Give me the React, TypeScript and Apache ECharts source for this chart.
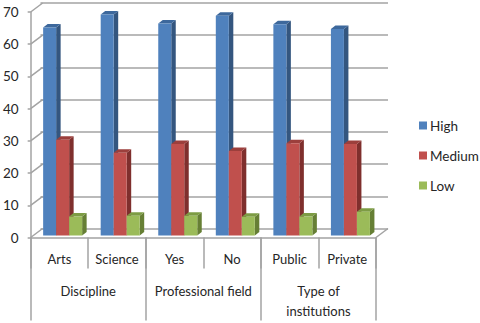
import React, { useEffect, useRef } from "react";
import * as echarts from "echarts";

const subCategories = ["Arts", "Science", "Yes", "No", "Public", "Private"];
const groupCategories = ["Discipline", "Professional field", "Type of\ninstitutions"];
const high = [64.6, 68.6, 65.8, 68.2, 65.6, 64.1];
const medium = [29.7, 25.7, 28.4, 26.2, 28.6, 28.4];
const low = [5.9, 6.1, 6.1, 5.8, 5.9, 7.4];
const yTicks = [0, 10, 20, 30, 40, 50, 60, 70];

const FONT = "Lato";
const GREY = "#a3a3a3";
const TEXT = "#262626";
const DX = 12;
const DY = -9;

const palettes = [
  { name: "High", front: "#4f81bd", side: "#34567f", top: "#3d689c" },
  { name: "Medium", front: "#c0504d", side: "#7f2f2d", top: "#9c3f3c" },
  { name: "Low", front: "#9bbb59", side: "#667f35", top: "#7d9c44" },
];
const seriesValues = [high, medium, low];

function barSeries(k: number) {
  const p = palettes[k];
  return {
    name: p.name,
    type: "custom",
    xAxisIndex: 0,
    yAxisIndex: 0,
    itemStyle: { color: p.front },
    z: 5 + k,
    data: seriesValues[k].map((v, i) => [i, v]),
    renderItem: (_: any, api: any) => {
      const top = api.coord([api.value(0), api.value(1)]);
      const base = api.coord([api.value(0), 0]);
      const w = 13;
      const x0 = top[0] + 3.2 - 19.5 + k * w;
      const x1 = x0 + w;
      const yt = top[1] - 2;
      const yb = base[1] - 2;
      const ox = 4.5;
      const oy = -3.5;
      return {
        type: "group",
        children: [
          { type: "polygon", shape: { points: [[x1, yt], [x1 + ox, yt + oy], [x1 + ox, yb + oy], [x1, yb]] }, style: { fill: p.side } },
          { type: "polygon", shape: { points: [[x0, yt], [x0 + ox, yt + oy], [x1 + ox, yt + oy], [x1, yt]] }, style: { fill: p.top } },
          { type: "rect", shape: { x: x0, y: yt, width: w, height: yb - yt }, style: { fill: p.front } },
        ],
      };
    },
  };
}

export default function App() {
  const ref = useRef<HTMLDivElement>(null);
  useEffect(() => {
    const chart = echarts.init(ref.current!, undefined, { renderer: "svg" });
    chart.setOption({
      animation: false,
      backgroundColor: "#ffffff",
      textStyle: { fontFamily: FONT },
      legend: {
        data: palettes.map((p) => p.name),
        orient: "vertical",
        left: 419,
        top: 118.5,
        padding: 0,
        itemWidth: 8,
        itemHeight: 8,
        itemGap: 16,
        icon: "rect",
        textStyle: { fontFamily: FONT, fontSize: 13.5, color: TEXT, padding: [0, 0, 0, -2] },
      },
      grid: [
        { left: 28.5, top: 12, width: 347.5, height: 225.5 },
        { left: 40.5, top: 3, width: 347.5, height: 225.5 },
      ],
      xAxis: [
        {
          gridIndex: 0,
          type: "category",
          data: subCategories,
          position: "bottom",
          axisLine: { show: true, lineStyle: { color: GREY, width: 1.5 } },
          axisTick: { show: true, length: 31, lineStyle: { color: GREY, width: 1.5 } },
          axisLabel: { margin: 15, fontFamily: FONT, fontSize: 13, color: TEXT, interval: 0 },
        },
        {
          gridIndex: 0,
          type: "category",
          data: groupCategories,
          position: "bottom",
          axisLine: { show: false },
          axisTick: { show: true, length: 83, lineStyle: { color: GREY, width: 1.5 } },
          axisLabel: { margin: 44, fontFamily: FONT, fontSize: 13, color: TEXT, interval: 0, lineHeight: 19.5 },
        },
        {
          gridIndex: 1,
          type: "category",
          data: subCategories,
          axisLine: { show: false },
          axisTick: { show: false },
          axisLabel: { show: false },
        },
      ],
      yAxis: [
        {
          gridIndex: 0,
          type: "value",
          min: 0,
          max: 70,
          interval: 10,
          axisLine: { show: true, lineStyle: { color: GREY, width: 1.5 } },
          axisTick: { show: true, length: 3, lineStyle: { color: GREY, width: 1.5 } },
          axisLabel: { margin: 12, fontFamily: FONT, fontSize: 13.5, color: TEXT, padding: [2, 0, 0, 0] },
          splitLine: { show: false },
        },
        {
          gridIndex: 1,
          type: "value",
          min: 0,
          max: 70,
          interval: 10,
          axisLine: { show: false },
          axisTick: { show: false },
          axisLabel: { show: false },
          splitLine: { show: true, lineStyle: { color: GREY, width: 1.5 } },
        },
      ],
      series: [
        {
          name: "wall",
          type: "custom",
          xAxisIndex: 0,
          yAxisIndex: 0,
          silent: true,
          z: 1,
          data: yTicks.map((t) => [0, t]),
          renderItem: (_: any, api: any) => {
            const p = api.coord([0, api.value(1)]);
            const x = p[0] - api.size([1, 0])[0] / 2;
            return {
              type: "line",
              shape: { x1: x, y1: p[1], x2: x + DX, y2: p[1] + DY },
              style: { stroke: GREY, lineWidth: 1.5 },
            };
          },
        },
        {
          name: "floor",
          type: "custom",
          xAxisIndex: 0,
          yAxisIndex: 0,
          silent: true,
          z: 1,
          data: [[subCategories.length - 1, 0]],
          renderItem: (_: any, api: any) => {
            const p = api.coord([api.value(0), api.value(1)]);
            const x = p[0] + api.size([1, 0])[0] / 2;
            return {
              type: "line",
              shape: { x1: x, y1: p[1], x2: x + DX, y2: p[1] + DY },
              style: { stroke: GREY, lineWidth: 1.5 },
            };
          },
        },
        barSeries(0),
        barSeries(1),
        barSeries(2),
      ],
    });
    return () => chart.dispose();
  }, []);
  return <div ref={ref} style={{ position: "fixed", left: 0, top: 0, width: 480, height: 323 }} />;
}
